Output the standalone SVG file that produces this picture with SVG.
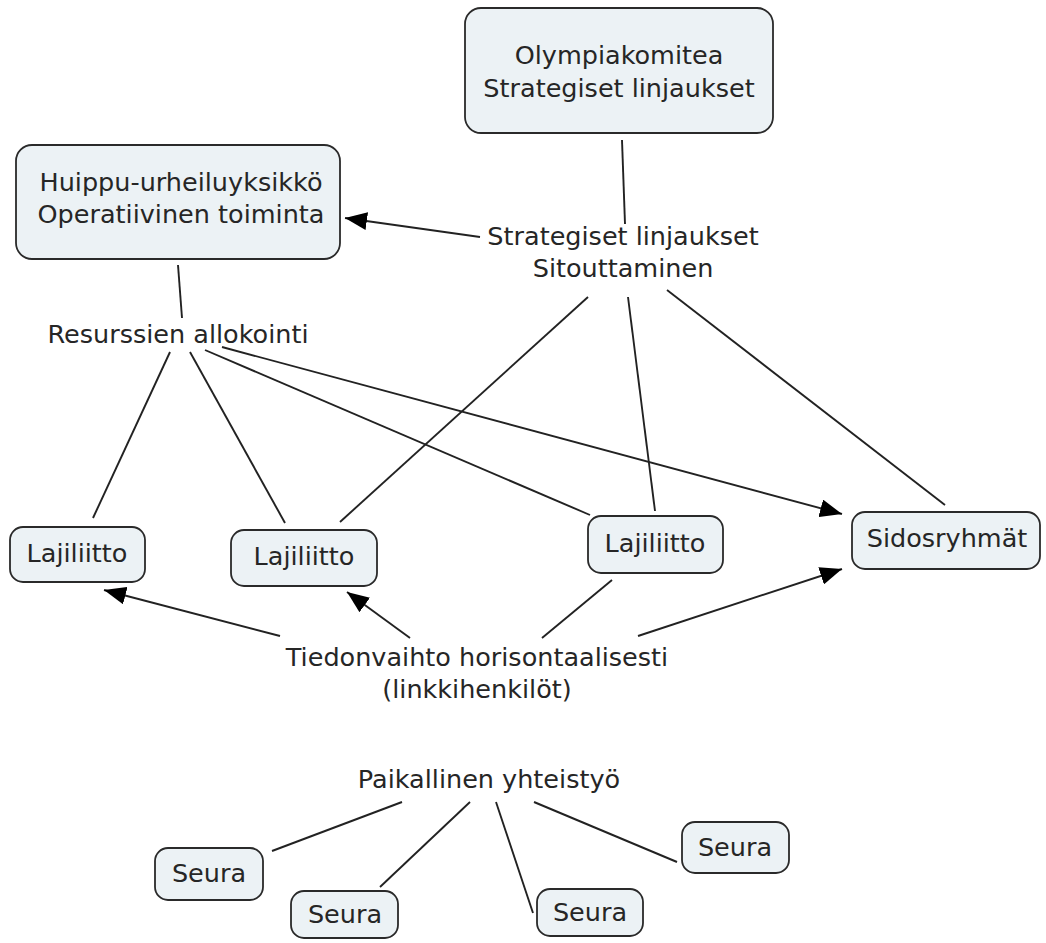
<svg xmlns="http://www.w3.org/2000/svg" width="1046" height="943" viewBox="0 0 1046 943">
<defs>
<style>
.box{fill:#ecf2f5;stroke:#2a2a2a;stroke-width:1.8}
.t{font-family:"DejaVu Sans","Verdana",sans-serif;font-size:25.5px;fill:#262626;text-anchor:middle}
.c{stroke:#222;stroke-width:1.9;fill:none}
</style>
<marker id="ah" viewBox="0 0 22 18" refX="22" refY="9" markerWidth="22" markerHeight="18" markerUnits="userSpaceOnUse" orient="auto">
<path d="M0,0 L22,9 L0,18 Z" fill="#000"/>
</marker>
</defs>
<rect width="1046" height="943" fill="#fff"/>
<g id="connectors">
<line class="c" x1="622" y1="140" x2="625" y2="224"/>
<line class="c" x1="480" y1="237" x2="345" y2="218" marker-end="url(#ah)"/>
<line class="c" x1="588" y1="297" x2="340" y2="522"/>
<line class="c" x1="628" y1="297" x2="655" y2="511"/>
<line class="c" x1="667" y1="290" x2="945" y2="505"/>
<line class="c" x1="178" y1="265" x2="182" y2="318"/>
<line class="c" x1="170" y1="352" x2="93" y2="518"/>
<line class="c" x1="190" y1="352" x2="285" y2="523"/>
<line class="c" x1="205" y1="350" x2="590" y2="515"/>
<line class="c" x1="222" y1="347" x2="842" y2="514" marker-end="url(#ah)"/>
<line class="c" x1="280" y1="636" x2="104" y2="590" marker-end="url(#ah)"/>
<line class="c" x1="410" y1="638" x2="347" y2="592" marker-end="url(#ah)"/>
<line class="c" x1="542" y1="638" x2="612" y2="580"/>
<line class="c" x1="638" y1="636" x2="842" y2="569" marker-end="url(#ah)"/>
<line class="c" x1="402" y1="802" x2="272" y2="851"/>
<line class="c" x1="470" y1="802" x2="380" y2="887"/>
<line class="c" x1="496" y1="802" x2="533" y2="913"/>
<line class="c" x1="534" y1="802" x2="677" y2="862"/>
</g>
<g id="olympiakomitea">
<rect class="box" x="465" y="8" width="308" height="125" rx="16"/>
<text class="t" x="619" y="64">Olympiakomitea</text>
<text class="t" x="619" y="97">Strategiset linjaukset</text>
</g>
<g id="huippu">
<rect class="box" x="16" y="145" width="324" height="114" rx="16"/>
<text class="t" x="181" y="191">Huippu-urheiluyksikkö</text>
<text class="t" x="181" y="223">Operatiivinen toiminta</text>
</g>
<g id="strategiset">
<text class="t" x="623" y="245">Strategiset linjaukset</text>
<text class="t" x="623" y="277">Sitouttaminen</text>
</g>
<g id="resurssien">
<text class="t" x="178" y="343">Resurssien allokointi</text>
</g>
<g id="lajiliitto1">
<rect class="box" x="10" y="527" width="135" height="55" rx="13"/>
<text class="t" x="77" y="562">Lajiliitto</text>
</g>
<g id="lajiliitto2">
<rect class="box" x="231" y="530" width="146" height="56" rx="13"/>
<text class="t" x="304" y="565">Lajiliitto</text>
</g>
<g id="lajiliitto3">
<rect class="box" x="588" y="516" width="135" height="57" rx="13"/>
<text class="t" x="655" y="552">Lajiliitto</text>
</g>
<g id="sidosryhmat">
<rect class="box" x="852" y="512" width="188" height="57" rx="13"/>
<text class="t" x="947" y="547">Sidosryhmät</text>
</g>
<g id="tiedonvaihto">
<text class="t" x="477" y="666">Tiedonvaihto horisontaalisesti</text>
<text class="t" x="477" y="698">(linkkihenkilöt)</text>
</g>
<g id="paikallinen">
<text class="t" x="489" y="788">Paikallinen yhteistyö</text>
</g>
<g id="seura1">
<rect class="box" x="155" y="848" width="108" height="52" rx="13"/>
<text class="t" x="209" y="882">Seura</text>
</g>
<g id="seura2">
<rect class="box" x="291" y="891" width="107" height="47" rx="13"/>
<text class="t" x="345" y="923">Seura</text>
</g>
<g id="seura3">
<rect class="box" x="537" y="889" width="106" height="47" rx="13"/>
<text class="t" x="590" y="921">Seura</text>
</g>
<g id="seura4">
<rect class="box" x="682" y="822" width="107" height="51" rx="13"/>
<text class="t" x="735" y="856">Seura</text>
</g>
</svg>
